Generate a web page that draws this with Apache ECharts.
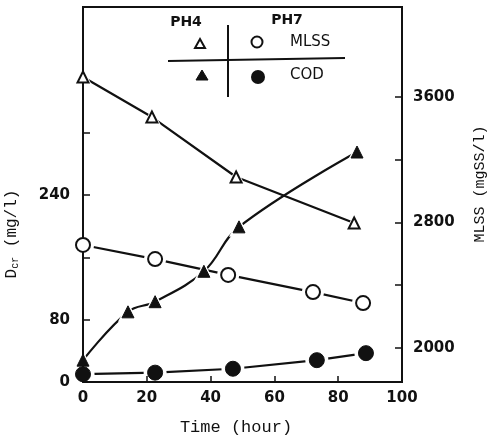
<!DOCTYPE html>
<html>
<head>
<meta charset="utf-8">
<script src="https://cdn.jsdelivr.net/npm/echarts@6/dist/echarts.min.js"></script>
<style>
  html, body { margin: 0; background: #fff; }
  #chart { width: 490px; height: 442px; }
</style>
</head>
<body>
<div id="chart"></div>
<script>
// axis ticks / labels
const codTicks = [0, 80, 160, 240, 320];
const codLabels = [0, 80, 240];
const mlssTicks = [2000, 2400, 2800, 3200, 3600];
const mlssLabels = [2000, 2800, 3600];

// PH4
const ph4MlssTime = [0, 21.6, 48, 85];
const ph4Mlss = [3726, 3471, 3089, 2796];
const ph4CodTime = [0, 14.1, 22.6, 37.9, 48.9, 85.9];
const ph4Cod = [28, 90, 103, 142, 199, 295];
// PH7
const ph7MlssTime = [0, 22.6, 45.5, 72.1, 87.8];
const ph7Mlss = [2656, 2566, 2465, 2356, 2286];
const ph7CodTime = [0, 22.6, 47, 73.3, 88.7];
const ph7Cod = [10, 12, 17, 28, 37];

const pairs = (xs, ys) => xs.map((x, i) => [x, ys[i]]);

const ink = '#111';
const tickFont = { color: ink, fontSize: 15, fontWeight: 'bold', fontFamily: 'DejaVu Sans' };

const chart = echarts.init(document.getElementById('chart'));

const openTri = { symbol: 'triangle', symbolSize: 11, itemStyle: { color: '#fff', borderColor: ink, borderWidth: 2, opacity: 1 } };
const fillTri = { symbol: 'triangle', symbolSize: 12, itemStyle: { color: ink, borderColor: ink, borderWidth: 1, opacity: 1 } };
const openCirc = { symbol: 'circle', symbolSize: 14, itemStyle: { color: '#fff', borderColor: ink, borderWidth: 2, opacity: 1 } };
const fillCirc = { symbol: 'circle', symbolSize: 15, itemStyle: { color: ink, borderColor: ink, borderWidth: 1, opacity: 1 } };

// line + white halo (gap round the marker, like the drawing) + marker
function trio(name, xs, ys, axis, mark, smooth) {
  const data = pairs(xs, ys);
  return [
    { name: name, type: 'line', yAxisIndex: axis, data: data, smooth: smooth || false,
      symbol: 'none', lineStyle: { color: ink, width: 2.2 }, z: 2 },
    { name: name, type: 'scatter', yAxisIndex: axis, data: data, symbol: mark.symbol, clip: false,
      symbolSize: mark.symbolSize + 8, itemStyle: { color: '#fff', opacity: 1 }, z: 3 },
    { name: name, type: 'scatter', yAxisIndex: axis, data: data, symbol: mark.symbol, clip: false,
      symbolSize: mark.symbolSize, itemStyle: mark.itemStyle, z: 5 }
  ];
}

const axisLineStyle = { color: ink, width: 2 };

const option = {
  animation: false,
  backgroundColor: '#fff',
  grid: { left: 83, right: 88, top: 7, bottom: 60, show: true, borderColor: ink, borderWidth: 2 },
  xAxis: {
    type: 'value', min: 0, max: 100, interval: 20, z: 4,
    axisLine: { lineStyle: axisLineStyle },
    axisTick: { inside: true, length: 6, lineStyle: { color: ink, width: 1.5 } },
    axisLabel: Object.assign({ margin: 9 }, tickFont),
    splitLine: { show: false }
  },
  yAxis: [
    {
      type: 'value', min: 0, max: 481, position: 'left', z: 4,
      axisLine: { show: true, lineStyle: axisLineStyle },
      axisTick: { show: true, inside: true, length: 7, customValues: codTicks, lineStyle: { color: ink, width: 1.5 } },
      axisLabel: Object.assign({ margin: 13, customValues: codLabels }, tickFont),
      splitLine: { show: false }
    },
    {
      type: 'value', min: 1783, max: 4172, position: 'right', z: 4,
      axisLine: { show: true, lineStyle: axisLineStyle },
      axisTick: { show: true, inside: true, length: 7, customValues: mlssTicks, lineStyle: { color: ink, width: 1.5 } },
      axisLabel: Object.assign({ margin: 11, customValues: mlssLabels, formatter: v => String(v) }, tickFont),
      splitLine: { show: false }
    }
  ],
  series: [].concat(
    trio('PH4 MLSS', ph4MlssTime, ph4Mlss, 1, openTri),
    trio('PH4 COD', ph4CodTime, ph4Cod, 0, fillTri, 0.4),
    trio('PH7 MLSS', ph7MlssTime, ph7Mlss, 1, openCirc),
    trio('PH7 COD', ph7CodTime, ph7Cod, 0, fillCirc)
  ),
  graphic: [
    // axis titles
    { type: 'text', x: 236, y: 427, style: { text: 'Time (hour)', font: '17px "Liberation Mono"', fill: ink, align: 'center', verticalAlign: 'middle' } },
    { type: 'text', x: 12, y: 234, rotation: Math.PI / 2,
      style: { text: 'D{s|cr} (mg/l)', fill: ink, align: 'center', verticalAlign: 'middle',
        font: '16px "Liberation Mono"', rich: { s: { fontSize: 10, fontFamily: 'Liberation Mono', verticalAlign: 'bottom', padding: [6, 0, 0, 0] } } } },
    { type: 'text', x: 480, y: 184, rotation: Math.PI / 2,
      style: { text: 'MLSS (mgSS/l)', font: '15px "Liberation Mono"', fill: ink, align: 'center', verticalAlign: 'middle' } },
    // legend table
    { type: 'line', shape: { x1: 168, y1: 61, x2: 345, y2: 58 }, style: { stroke: ink, lineWidth: 2 } },
    { type: 'line', shape: { x1: 228, y1: 25, x2: 228, y2: 97 }, style: { stroke: ink, lineWidth: 2 } },
    { type: 'text', x: 186, y: 22, style: { text: 'PH4', font: 'bold 14px "DejaVu Sans"', fill: ink, align: 'center', verticalAlign: 'middle' } },
    { type: 'text', x: 287, y: 20, style: { text: 'PH7', font: 'bold 14px "DejaVu Sans"', fill: ink, align: 'center', verticalAlign: 'middle' } },
    { type: 'polygon', shape: { points: [[200, 39], [205, 48], [195, 48]] }, style: { fill: '#fff', stroke: ink, lineWidth: 2 } },
    { type: 'polygon', shape: { points: [[202, 70], [208, 80], [196, 80]] }, style: { fill: ink, stroke: ink, lineWidth: 1 } },
    { type: 'circle', shape: { cx: 257, cy: 42, r: 5.5 }, style: { fill: '#fff', stroke: ink, lineWidth: 2 } },
    { type: 'circle', shape: { cx: 258, cy: 77, r: 7 }, style: { fill: ink } },
    { type: 'text', x: 290, y: 42, style: { text: 'MLSS', font: '15px "DejaVu Sans"', fill: ink, align: 'left', verticalAlign: 'middle' } },
    { type: 'text', x: 290, y: 75, style: { text: 'COD', font: '15px "DejaVu Sans"', fill: ink, align: 'left', verticalAlign: 'middle' } }
  ]
};

chart.setOption(option);
</script>
</body>
</html>
